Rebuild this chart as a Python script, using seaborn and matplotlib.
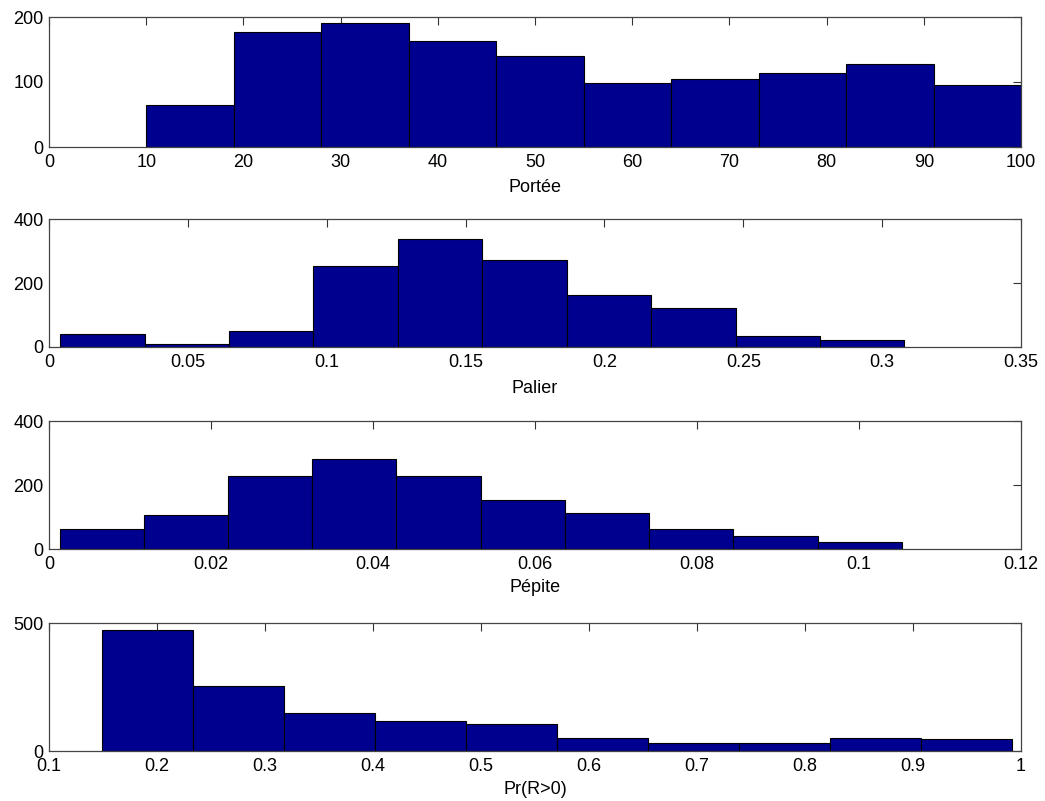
import matplotlib
matplotlib.use("Agg")
import matplotlib.pyplot as plt
import seaborn as sns

# -----------------------------
# Data (bin edges + counts)
# -----------------------------
portee_edges = [10, 19, 28, 37, 46, 55, 64, 73, 82, 91, 100]
portee_counts = [64, 177, 191, 163, 140, 99, 104, 114, 128, 96]

palier_edges = [0.0040, 0.0344, 0.0648, 0.0952, 0.1256, 0.1560,
                0.1864, 0.2168, 0.2472, 0.2776, 0.3080]
palier_counts = [41, 10, 51, 252, 337, 273, 162, 122, 33, 22]

pepite_edges = [0.0013, 0.0117, 0.0221, 0.0325, 0.0429, 0.0533,
                0.0637, 0.0741, 0.0845, 0.0949, 0.1053]
pepite_counts = [61, 107, 229, 282, 229, 154, 111, 63, 40, 22]

pr_edges = [0.149, 0.2333, 0.3176, 0.4019, 0.4862, 0.5705,
            0.6548, 0.7391, 0.8234, 0.9077, 0.992]
pr_counts = [471, 255, 148, 116, 107, 51, 31, 31, 51, 45]

labels = ["Portée", "Palier", "Pépite", "Pr(R>0)"]
xlims = [(0, 100), (0, 0.35), (0, 0.12), (0.1, 1)]
ylims = [(0, 200), (0, 400), (0, 400), (0, 500)]
xticks = [
    [0, 10, 20, 30, 40, 50, 60, 70, 80, 90, 100],
    [0, 0.05, 0.1, 0.15, 0.2, 0.25, 0.3, 0.35],
    [0, 0.02, 0.04, 0.06, 0.08, 0.1, 0.12],
    [0.1, 0.2, 0.3, 0.4, 0.5, 0.6, 0.7, 0.8, 0.9, 1],
]
xticklabels = [
    ["0", "10", "20", "30", "40", "50", "60", "70", "80", "90", "100"],
    ["0", "0.05", "0.1", "0.15", "0.2", "0.25", "0.3", "0.35"],
    ["0", "0.02", "0.04", "0.06", "0.08", "0.1", "0.12"],
    ["0.1", "0.2", "0.3", "0.4", "0.5", "0.6", "0.7", "0.8", "0.9", "1"],
]
yticks = [[0, 100, 200], [0, 200, 400], [0, 200, 400], [0, 500]]

all_edges = [portee_edges, palier_edges, pepite_edges, pr_edges]
all_counts = [portee_counts, palier_counts, pepite_counts, pr_counts]

# -----------------------------
# Style
# -----------------------------
sns.set_style("white")
plt.rcParams["font.family"] = ["Liberation Sans", "DejaVu Sans"]
plt.rcParams["font.size"] = 13

fig = plt.figure(figsize=(10.45, 8.01), dpi=100)

W, H = 1045.0, 801.0
left, right = 49, 1021
boxes = [(17, 147), (219, 347), (421, 549), (623, 751)]
label_y = [187, 388, 588, 789]

bar_color = "#00008F"

for i in range(4):
    top, bot = boxes[i]
    ax = fig.add_axes([left / W, 1 - bot / H, (right - left) / W, (bot - top) / H])
    edges = all_edges[i]
    counts = all_counts[i]
    centers = [(edges[k] + edges[k + 1]) / 2 for k in range(len(counts))]
    sns.histplot(x=centers, weights=counts, bins=edges, ax=ax,
                 color=bar_color, alpha=1, edgecolor="black", linewidth=0.8)
    ax.set_xlim(*xlims[i])
    ax.set_ylim(*ylims[i])
    ax.set_xticks(xticks[i])
    ax.set_xticklabels(xticklabels[i])
    ax.set_yticks(yticks[i])
    ax.set_ylabel("")
    ax.set_xlabel("")
    ax.tick_params(direction="in", length=6, width=0.8, top=True, right=True,
                   labelsize=13, colors="#333333", labelcolor="black")
    ax.tick_params(axis="x", pad=5)
    ax.tick_params(axis="y", pad=4)
    for sp in ax.spines.values():
        sp.set_color("#444444")
        sp.set_linewidth(0.9)
    fig.text((left + right) / 2 / W, 1 - label_y[i] / H, labels[i],
             ha="center", va="center", fontsize=13, color="black")

plt.savefig("out.png", dpi=100)
plt.close()
